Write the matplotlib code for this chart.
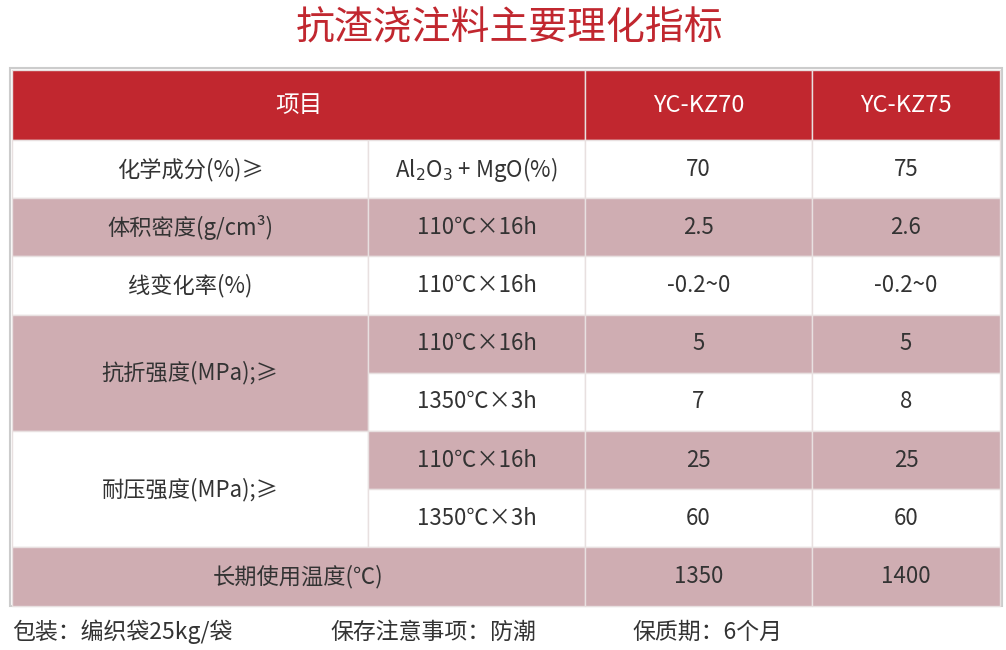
import matplotlib.pyplot as plt
from matplotlib.patches import Rectangle

plt.rcParams['font.family'] = ['Noto Sans CJK SC', 'DejaVu Sans']

title = "抗渣浇注料主要理化指标"
header = ["项目", "YC-KZ70", "YC-KZ75"]
items = ["化学成分(%)≥", "体积密度(g/cm³)", "线变化率(%)", "抗折强度(MPa);≥", "耐压强度(MPa);≥", "长期使用温度(℃)"]
item_spans = [1, 1, 1, 2, 2, 1]
conditions = ["Al$_2$O$_3$ + MgO(%)", "110℃×16h", "110℃×16h", "110℃×16h", "1350℃×3h",
              "110℃×16h", "1350℃×3h", None]
kz70 = ["70", "2.5", "-0.2~0", "5", "7", "25", "60", "1350"]
kz75 = ["75", "2.6", "-0.2~0", "5", "8", "25", "60", "1400"]
footer = ["包装：编织袋25kg/袋", "保存注意事项：防潮", "保质期：6个月"]

RED = "#c1272f"
PINK = "#cfadb2"
WHITE = "#ffffff"
TXT = "#333333"

fig = plt.figure(figsize=(10.06, 6.5), dpi=100)
ax = fig.add_axes([0, 0, 1, 1])
ax.set_xlim(0, 1006)
ax.set_ylim(650, 0)
ax.axis('off')

cols = [12, 368, 585, 812, 1000]
top, hh, rh = 70, 70, 58.2


def cell(x0, x1, y0, y1, color, text, tcolor=TXT, size=16):
    ax.add_patch(Rectangle((x0, y0), x1 - x0, y1 - y0, facecolor=color, edgecolor="#e8e0e0", lw=1))
    if text:
        ax.text((x0 + x1) / 2, (y0 + y1) / 2, text, ha='center', va='center', fontsize=size, color=tcolor)


ax.text(510, 28, title, ha='center', va='center', fontsize=28, color=RED)
ax.add_patch(Rectangle((10, 68), 992, 538, facecolor='none', edgecolor="#cccccc", lw=1.5))

cell(cols[0], cols[2], top, top + hh, RED, header[0], 'white', 17)
cell(cols[2], cols[3], top, top + hh, RED, header[1], 'white', 17)
cell(cols[3], cols[4], top, top + hh, RED, header[2], 'white', 17)

row_shade = [WHITE, PINK, WHITE, PINK, WHITE, PINK, WHITE, PINK]
item_shade = [WHITE, PINK, WHITE, PINK, WHITE, PINK]
y = top + hh
r = 0
for item, span, shade in zip(items, item_spans, item_shade):
    y1 = y + span * rh
    if conditions[r] is None:
        cell(cols[0], cols[2], y, y1, shade, item)
    else:
        cell(cols[0], cols[1], y, y1, shade, item)
    for k in range(span):
        ya = y + k * rh
        yb = ya + rh
        if conditions[r] is not None:
            cell(cols[1], cols[2], ya, yb, row_shade[r], conditions[r])
        cell(cols[2], cols[3], ya, yb, row_shade[r], kz70[r])
        cell(cols[3], cols[4], ya, yb, row_shade[r], kz75[r])
        r += 1
    y = y1

for x, t in zip([12, 330, 632], footer):
    ax.text(x, 632, t, ha='left', va='center', fontsize=16.5, color=TXT)

fig.savefig("out.png", dpi=100)
